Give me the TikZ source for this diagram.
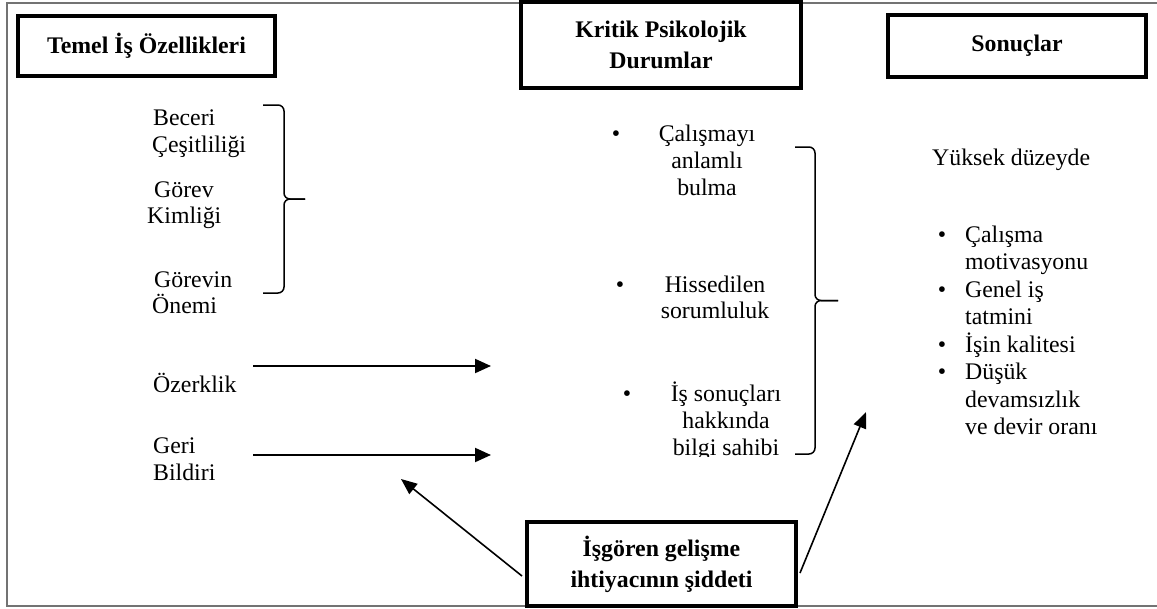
\documentclass[tikz,border=0pt]{standalone}
\usepackage{fontspec}
\setmainfont{Liberation Serif}
\usetikzlibrary{arrows.meta,calc}

\tikzset{
  hdrbox/.style={draw, fill=white, line width=4pt, align=center, inner sep=0pt,
    font=\bfseries\fontsize{23.8}{31}\selectfont},
  lbl/.style={inner sep=0pt, font=\fontsize{23.8}{27.5}\selectfont},
  lblw/.style={lbl, anchor=base west},
  lblc/.style={lbl, anchor=base},
  arr/.style={line width=2pt, -{Triangle[length=16pt,width=14pt]}},
  darr/.style={line width=1.6pt, -{Triangle[length=16pt,width=13pt]}},
  bracket/.style={line width=1.5pt, rounded corners=6pt},
}

\begin{document}
\begin{tikzpicture}[x=1pt,y=-1pt]
\useasboundingbox (0,0) rectangle (1157,608);

% outer frame, open on the right
\draw[black!55, line width=1.5pt] (1157,3) -- (7,3) -- (7,606) -- (1157,606);

% heading boxes
\node[hdrbox, minimum width=257pt, minimum height=60pt] (core) at (146.5,46) {Temel İş Özellikleri};
\node[hdrbox, minimum width=280pt, minimum height=86pt] (states) at (661,45) {Kritik Psikolojik\\Durumlar};
\node[hdrbox, minimum width=258pt, minimum height=62pt] (outc) at (1017,46) {Sonuçlar};
\node[hdrbox, minimum width=269pt, minimum height=84pt] (need) at (661.5,564) {İşgören gelişme\\ihtiyacının şiddeti};

% core job characteristics
\node[lblw] (beceri) at (153,125) {Beceri};
\node[lblw] (cesit) at (152,152) {Çeşitliliği};
\node[lblw] (gorev) at (154,197) {Görev};
\node[lblw] (kimlik) at (147,223.5) {Kimliği};
\node[lblw] (gorevin) at (154,287) {Görevin};
\node[lblw] (onemi) at (152,313) {Önemi};
\node[lblw] (ozerk) at (153,392) {Özerklik};
\node[lblw] (geri) at (153,453) {Geri};
\node[lblw] (bildiri) at (153,480) {Bildiri};

% brace grouping the first three characteristics
\coordinate (lbTop) at (263,105);
\coordinate (lbBot) at (263,293);
\coordinate (lbTip) at (305,199);
\draw[bracket] (lbTop) -- (284,105) -- (284,199) -- (lbTip);
\draw[bracket] (lbBot) -- (284,293) -- (284,199) -- (lbTip);

% critical psychological states
\node[lblc] (b1) at (616,141.7) {•};
\node[lblc] (s1a) at (707,141.7) {Çalışmayı};
\node[lblc] (s1b) at (707,168.5) {anlamlı};
\node[lblc] (s1c) at (707,195) {bulma};

\node[lblc] (b2) at (620,292.5) {•};
\node[lblc] (s2a) at (715,292.5) {Hissedilen};
\node[lblc] (s2b) at (715,318.5) {sorumluluk};

\node[lblc] (b3) at (627,401.5) {•};
\node[lblc] (s3a) at (726,401.5) {İş sonuçları};
\node[lblc] (s3b) at (726,428.5) {hakkında};
\begin{scope}
  \clip (600,430) rectangle (800,456.5);
  \node[lblc] (s3c) at (726,455) {bilgi sahibi};
\end{scope}

% brace grouping the states
\coordinate (cbTop) at (795,147);
\coordinate (cbBot) at (795,454);
\coordinate (cbTip) at (838,300.5);
\draw[bracket] (cbTop) -- (815,147) -- (815,300.5) -- (cbTip);
\draw[bracket] (cbBot) -- (815,454) -- (815,300.5) -- (cbTip);

% outcomes
\node[lblw] (high) at (932,165.5) {Yüksek düzeyde};
\node[lblc] (ob1) at (942,242) {•};
\node[lblw] (o1a) at (965,242) {Çalışma};
\node[lblw] (o1b) at (965,269.5) {motivasyonu};
\node[lblc] (ob2) at (942,297) {•};
\node[lblw] (o2a) at (965,297) {Genel iş};
\node[lblw] (o2b) at (965,324.5) {tatmini};
\node[lblc] (ob3) at (942,352) {•};
\node[lblw] (o3a) at (965,352) {İşin kalitesi};
\node[lblc] (ob4) at (942,379.5) {•};
\node[lblw] (o4a) at (965,379.5) {Düşük};
\node[lblw] (o4b) at (965,407) {devamsızlık};
\node[lblw] (o4c) at (965,434.5) {ve devir oranı};

% arrows from autonomy and feedback
\coordinate (autS) at (253,366);
\coordinate (autE) at (491,366);
\coordinate (fbS) at (253,455);
\coordinate (fbE) at (491,455);
\draw[arr] (autS) -- (autE);
\draw[arr] (fbS) -- (fbE);

% moderating arrows from growth need strength
\coordinate (modL) at (401,479);
\coordinate (modR) at (866,412);
\draw[darr] ($(need.west)+(-3,12)$) -- (modL);
\draw[darr] ($(need.east)+(2,9)$) -- (modR);
\end{tikzpicture}
\end{document}
